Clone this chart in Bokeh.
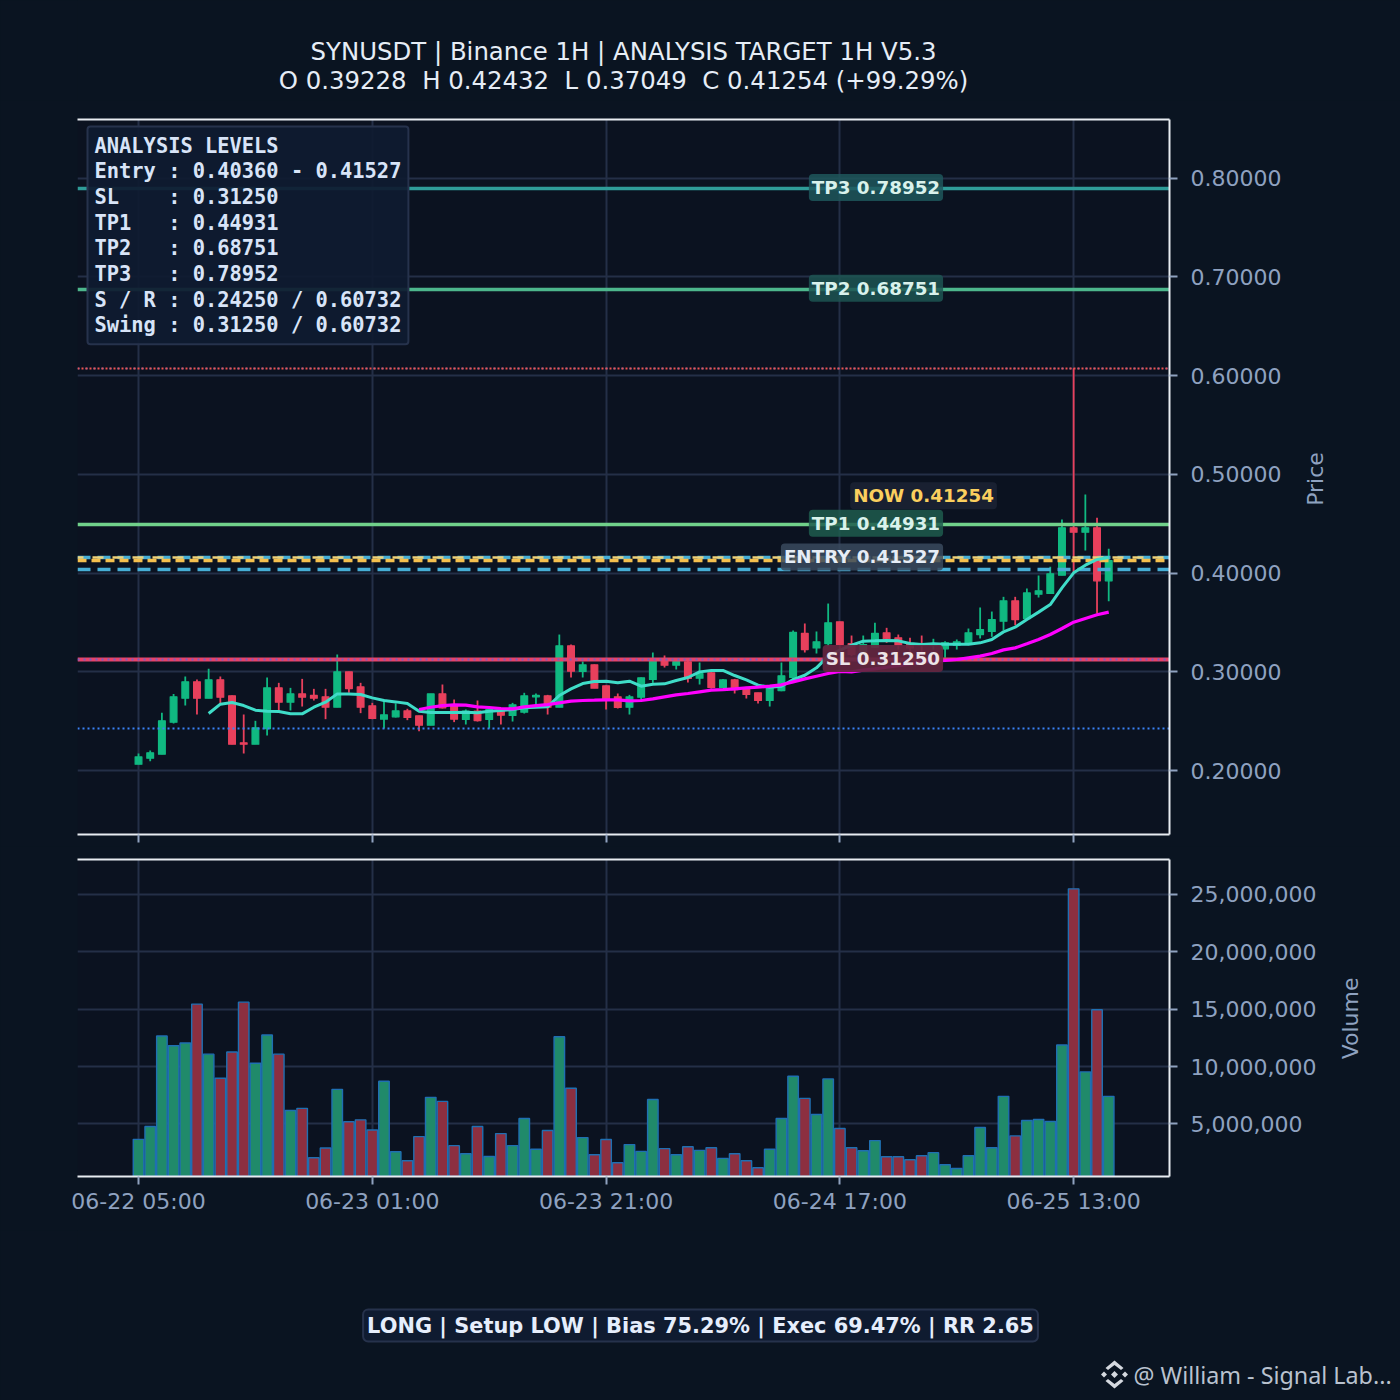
import math
from bokeh.plotting import figure
from bokeh.layouts import column
from bokeh.models import (ColumnDataSource, FixedTicker, LinearAxis, Label, NumeralTickFormatter,
                          Range1d)
from bokeh.embed import file_html
from bokeh.resources import INLINE

tick_positions = [0, 20, 40, 60, 80]
tick_labels = ["06-22 05:00", "06-23 01:00", "06-23 21:00", "06-24 17:00", "06-25 13:00"]
price_ticks = [0.2, 0.3, 0.4, 0.5, 0.6, 0.7, 0.8]
volume_ticks = [5e6, 1e7, 1.5e7, 2e7, 2.5e7]

opens = [.2064,.2125,.2165,.2490,.2733,.2898,.2733,.2918,.2756,.2280,.2267,.2425,.2837,.2692,.2776,.2760,.2746,.2641,.2999,.2847,.2655,.2520,.2544,.2604,.2554,.2459,.2776,.2665,
         .2517,.2601,.2517,.2601,.2557,.2591,.2746,.2756,.2641,.3263,.3003,.3070,.2858,.2746,.2641,.2743,.2922,.3124,.3067,.3101,.2935,.2989,.2841,.2918,.2827,.2787,.2709,.2810,.2942,.3388,
         .3242,.3286,.3506,.3286,.3192,.3249,.3394,.3344,.3276,.3276,.3266,.3232,.3269,.3286,.3377,.3408,.3512,.3718,.3539,.3786,.3793,.3978,.4458,.4414,.4458,.3921]
closes = [.2138,.2179,.2503,.2746,.2898,.2733,.2918,.2743,.2267,.2267,.2432,.2837,.2692,.2776,.2743,.2733,.2641,.2999,.2830,.2641,.2527,.2564,.2604,.2537,.2459,.2776,.2635,.2520,
          .2601,.2506,.2618,.2560,.2665,.2756,.2760,.2641,.3263,.3006,.3070,.2834,.2726,.2638,.2746,.2939,.3117,.3067,.3104,.2932,.2982,.2841,.2918,.2820,.2770,.2709,.2834,.2959,.3398,.3225,
          .3303,.3496,.3276,.3175,.3276,.3388,.3334,.3269,.3242,.3266,.3286,.3293,.3303,.3394,.3428,.3529,.3718,.3529,.3799,.3820,.3992,.4458,.4414,.4458,.3921,.41254]
highs = [.2172,.2203,.2584,.2776,.2952,.2922,.3030,.2952,.2760,.2567,.2503,.2942,.2888,.2837,.2928,.2827,.2827,.3175,.2999,.2888,.2685,.2719,.2679,.2625,.2554,.2776,.2871,.2719,
         .2618,.2709,.2635,.2618,.2685,.2787,.2780,.2766,.3377,.3276,.3104,.3074,.2861,.2780,.2766,.2942,.3195,.3165,.3114,.3114,.3094,.3013,.2928,.2928,.2847,.2787,.2841,.3094,.3418,.3489,
         .3408,.3691,.3506,.3367,.3367,.3496,.3445,.3377,.3344,.3367,.3334,.3310,.3327,.3438,.3651,.3610,.3759,.3759,.3843,.3975,.4063,.4542,.60732,.4795,.4559,.4245]
lows = [.2064,.2095,.2165,.2476,.2658,.2567,.2733,.2679,.2267,.2172,.2267,.2354,.2601,.2608,.2648,.2709,.2520,.2641,.2787,.2581,.2520,.2425,.2537,.2510,.2398,.2459,.2628,.2490,
        .2466,.2496,.2425,.2466,.2496,.2577,.2635,.2567,.2641,.2942,.2942,.2834,.2618,.2628,.2567,.2712,.2888,.3043,.3023,.2891,.2871,.2830,.2841,.2780,.2729,.2679,.2648,.2803,.2922,.3195,
        .3185,.3259,.3225,.3158,.3141,.3242,.3293,.3225,.3192,.3175,.3225,.3141,.3225,.3269,.3337,.3354,.3421,.3472,.3529,.3752,.3793,.3978,.4009,.4228,.3590,.3715]
volumes_m = [3.65,4.77,12.66,11.81,12.05,15.44,11.08,8.98,11.26,15.61,10.29,12.75,11.08,6.17,6.35,2.05,2.89,8.01,5.18,5.35,4.47,8.71,2.57,1.78,3.89,7.31,6.96,3.10,2.40,4.77,2.16,4.15,3.10,5.47,2.78,4.42,12.60,8.10,3.80,2.31,3.63,1.61,3.19,2.60,7.13,2.84,2.31,3.01,2.69,2.92,1.99,2.40,1.78,1.17,2.78,5.47,9.15,7.22,5.82,8.92,4.59,2.92,2.66,3.54,2.13,2.13,1.87,2.22,2.49,1.43,1.11,2.22,4.68,2.92,7.40,3.95,5.29,5.38,5.20,11.87,25.49,9.53,14.95,7.40]
ema_fast_start = 6
ema_fast = [.2577,.2672,.2689,.2658,.2611,.2601,.2598,.2574,.2574,.2641,.2692,.2776,.2776,.2770,.2736,.2709,.2695,.2679,.2601,.2587,.2587,.2587,
            .2591,.2584,.2601,.2608,.2618,.2635,.2641,.2645,.2760,.2827,.2881,.2901,.2905,.2888,.2905,.2854,.2874,.2878,.2912,.2942,.2999,.3013,.3013,.2962,.2918,.2864,.2844,.2854,.2920,.2965,
            .3040,.3158,.3219,.3269,.3310,.3313,.3317,.3313,.3286,.3276,.3283,.3279,.3279,.3279,.3293,.3327,.3404,.3452,.3529,.3604,.3681,.3850,.4002,.4080,.4137,.4157]
ema_slow_start = 24
ema_slow = [.2618,.2641,.2658,.2665,.2662,.2645,.2638,.2628,.2625,.2645,.2658,.2668,.2685,.2702,.2709,.2712,.2716,.2716,.2706,.2709,.2726,.2746,.2766,.2780,.2797,.2814,.2820,.2827,.2837,.2844,.2854,.2868,.2898,.2928,
            .2955,.2982,.3003,.2999,.3016,.3030,.3046,.3063,.3080,.3097,.3107,.3114,.3124,.3141,.3158,.3185,.3222,.3242,.3283,.3327,.3377,.3438,.3502,.3540,.3577,.3604]

TP3, TP2, TP1 = 0.78952, 0.68751, 0.44931
ENTRY_LOW, ENTRY_HIGH, NOW, SL = 0.40360, 0.41527, 0.41254, 0.31250
SUPPORT, RESIST = 0.24250, 0.60732

title_lines = ["SYNUSDT | Binance 1H | ANALYSIS TARGET 1H V5.3",
               "O 0.39228\u00a0 H 0.42432\u00a0 L 0.37049\u00a0 C 0.41254 (+99.29%)"]
panel_lines = ["ANALYSIS LEVELS",
               "Entry : 0.40360 - 0.41527",
               "SL\u00a0\u00a0\u00a0\u00a0: 0.31250",
               "TP1\u00a0\u00a0\u00a0: 0.44931",
               "TP2\u00a0\u00a0\u00a0: 0.68751",
               "TP3\u00a0\u00a0\u00a0: 0.78952",
               "S / R : 0.24250 / 0.60732",
               "Swing : 0.31250 / 0.60732"]
footer = "LONG | Setup LOW | Bias 75.29% | Exec 69.47% | RR 2.65"
credit = "@ William - Signal Lab..."

PAGE = "#0a1421"
PLOT = "#0b1220"
GRID = "#242f47"
TICK = "#8fa2c0"
SPINE = "#e8ecf1"
UP = "#10b981"
DOWN = "#e8405c"

n = len(closes)
idx = list(range(n))
is_up = [c >= o for o, c in zip(opens, closes)]
src = dict(x=idx, o=opens, c=closes, h=highs, l=lows, v=[a * 1e6 for a in volumes_m],
           top=[max(o, c) for o, c in zip(opens, closes)], bot=[min(o, c) for o, c in zip(opens, closes)])
def subset(flag):
    return ColumnDataSource({k: [val[i] for i in idx if is_up[i] == flag] for k, val in src.items()})
up_src, down_src = subset(True), subset(False)

X = Range1d(-5.22, 88.2)

def base(top, frame_h, bottom, y_range):
    p = figure(frame_width=1092, frame_height=frame_h, min_border_left=77, min_border_right=231,
               min_border_top=top, min_border_bottom=bottom, x_range=X, y_range=y_range,
               y_axis_location="right", toolbar_location=None, output_backend="svg",
               background_fill_color=PLOT, border_fill_color=PAGE, outline_line_color=None)
    xax, yax = p.below[0], p.right[0]
    for ax in (xax, yax):
        ax.axis_line_color = SPINE
        ax.axis_line_width = 2
        ax.major_tick_line_color = TICK
        ax.major_tick_line_width = 2
        ax.major_tick_out = 8
        ax.major_tick_in = 0
        ax.minor_tick_line_color = None
        ax.major_label_text_color = TICK
        ax.major_label_text_font = "DejaVu Sans"
        ax.major_label_text_font_size = "22px"
    xax.ticker = FixedTicker(ticks=tick_positions)
    yax.major_label_standoff = 13
    p.xgrid.ticker = FixedTicker(ticks=tick_positions)
    for g in (p.xgrid[0], p.ygrid[0]):
        g.grid_line_color = GRID
        g.grid_line_width = 2
    topax = LinearAxis(ticker=FixedTicker(ticks=[]), axis_line_color=SPINE, axis_line_width=2,
                       major_tick_line_color=None, minor_tick_line_color=None)
    p.add_layout(topax, "above")
    return p, xax, yax

def text_band(height, y_top):
    # the column lines its frames up at x = 77, so the band's range starts there
    f = figure(frame_width=1400, frame_height=height, min_border=0, x_range=Range1d(77, 1477),
               y_range=Range1d(y_top + height, y_top), x_axis_type=None, y_axis_type=None,
               toolbar_location=None, output_backend="svg", background_fill_color=PAGE,
               border_fill_color=PAGE, outline_line_color=None)
    f.xgrid.visible = False
    f.ygrid.visible = False
    return f

head = text_band(100, 0)
for text, y in zip(title_lines, (51, 80)):
    head.add_layout(Label(x=623, y=y, text=text, text_align="center", text_baseline="middle",
                          text_font="DejaVu Sans", text_font_size="24.4px", text_color="#e6edf6"))

price, px, py = base(19, 715, 12, Range1d(0.1352, 0.8593))
px.major_label_overrides = {t: "" for t in tick_positions}
py.ticker = FixedTicker(ticks=price_ticks)
py.formatter = NumeralTickFormatter(format="0.00000")
price.ygrid.ticker = FixedTicker(ticks=price_ticks)

for s, col in ((up_src, UP), (down_src, DOWN)):
    price.segment("x", "h", "x", "l", source=s, line_color=col, line_width=1.8)
    price.vbar("x", 0.58, "top", "bot", source=s, fill_color=col, line_color=col, line_width=1.2, line_join="round")

price.hspan(y=[TP3], line_color="#2f9c98", line_width=3.4)
price.hspan(y=[TP2], line_color="#4db68c", line_width=3.4)
price.hspan(y=[TP1], line_color="#70d08a", line_width=3.4)
price.hspan(y=[SUPPORT], line_color="#3b82f6", line_width=2, line_dash="2 3")
price.hspan(y=[RESIST], line_color="#3b82f6", line_width=1.6, line_dash="2 6")
price.hspan(y=[RESIST], line_color="#f0524f", line_width=2, line_dash="2 2")
price.hspan(y=[SL], line_color="#e8436a", line_width=4)
price.hspan(y=[SL], line_color="#7a5fc0", line_width=2, line_dash="2 4")
price.hspan(y=[ENTRY_LOW, ENTRY_HIGH], line_color="#46aed6", line_width=3.4, line_dash="13 7")
price.hspan(y=[ENTRY_HIGH], line_color="#eed27a", line_width=2.6, line_dash="11 9", line_dash_offset=5)
price.hspan(y=[NOW], line_color="#f5c04e", line_width=3.4, line_dash="9 5")

price.line(list(range(ema_fast_start, n)), ema_fast, line_color="#3fdcc8", line_width=3)
price.line(list(range(ema_slow_start, n)), ema_slow, line_color="#ff00ff", line_width=3.2)

def level_label(level, name, bg, fg, xv=68.83, y=None, alpha=0.85):
    price.add_layout(Label(x=xv, y=(level + 0.001) if y is None else y, text=f"{name} {level:.5f}", text_align="right",
                           text_baseline="middle", text_font="DejaVu Sans", text_font_style="bold",
                           text_font_size="18.3px", text_color=fg, background_fill_color=bg,
                           background_fill_alpha=alpha, padding=3, border_radius=4))

level_label(TP3, "TP3", "#1f575c", "#d9f2ec")
level_label(TP2, "TP2", "#1d5552", "#d9f2ec")
level_label(TP1, "TP1", "#1f5c4e", "#d9f2ec")
level_label(ENTRY_HIGH, "ENTRY", "#3a4a5e", "#e6edf6")
level_label(SL, "SL", "#642640", "#ece4e8", alpha=0.93)
level_label(NOW, "NOW", "#1a2233", "#fbcf5e", xv=73.43, y=0.4783, alpha=0.95)

price.add_layout(Label(x=10, y=708, x_units="screen", y_units="screen", text="\n".join(panel_lines),
                       text_align="left", text_baseline="top", text_font="DejaVu Sans Mono", text_font_style="bold",
                       text_font_size="20.4px", text_color="#d8e4f8", text_line_height=1.07,
                       background_fill_color="#0f1b30", background_fill_alpha=0.93,
                       border_line_color="#26324c", border_line_width=2, padding=7, border_radius=3))

vol, vx, vy = base(13, 317, 54, Range1d(0.41e6, 28.05e6))
vx.major_label_overrides = dict(zip(tick_positions, tick_labels))
vx.major_label_standoff = 4
vy.ticker = FixedTicker(ticks=volume_ticks)
vy.formatter = NumeralTickFormatter(format="0,0")
vol.ygrid.ticker = FixedTicker(ticks=volume_ticks)
for s, col in ((down_src, "#8c2f40"), (up_src, "#208a6a")):
    vol.vbar("x", 0.9, "v", 0, source=s, fill_color=col, line_color="#1f6fb2", line_width=1.4)

# axis titles: rotated labels in the right-hand margins, positioned on each panel's own scales
price.add_layout(Label(x=100.7, y=0.4952, text="Price", angle=math.pi / 2, text_align="center", text_baseline="middle",
                       text_font="DejaVu Sans", text_font_size="22px", text_color=TICK), "right")
vol.add_layout(Label(x=103.7, y=14.19e6, text="Volume", angle=math.pi / 2, text_align="center", text_baseline="middle",
                     text_font="DejaVu Sans", text_font_size="22px", text_color=TICK), "right")

foot = text_band(170, 1230)
foot.add_layout(Label(x=700, y=1325, text=footer, text_align="center", text_baseline="middle",
                      text_font="DejaVu Sans", text_font_style="bold", text_font_size="20.9px",
                      text_color="#e6eefc", background_fill_color="#0f1b30", border_line_color="#26324c",
                      border_line_width=2, padding=4, border_radius=5))
foot.add_layout(Label(x=1133, y=1374, text=credit, text_align="left", text_baseline="middle",
                      text_font="Noto Sans", text_font_size="23.3px", text_color="#b9c2cf"))
# Binance mark
cx, cy = 1114, 1374
logo_shapes = [
    ([-3.5, 0, 3.5, 0], [0, 3.5, 0, -3.5]),
    ([-13.5, -10.5, -7.5, -10.5], [0, 3, 0, -3]),
    ([7.5, 10.5, 13.5, 10.5], [0, 3, 0, -3]),
    ([-9, 0, 9, 6.5, 0, -6.5], [-6.5, -14, -6.5, -4.5, -9.5, -4.5]),
    ([-9, 0, 9, 6.5, 0, -6.5], [6.5, 14, 6.5, 4.5, 9.5, 4.5]),
]
foot.patches([[cx + a for a in xs] for xs, _ in logo_shapes], [[cy + b for b in ys] for _, ys in logo_shapes],
             fill_color="#d5d9df", line_color=None)

page = column(head, price, vol, foot, spacing=0)
html = file_html(page, INLINE)
html = html.replace("<head>", "<head><style>html,body{background:%s;}</style>" % PAGE, 1)
open("out.html", "w").write(html)
